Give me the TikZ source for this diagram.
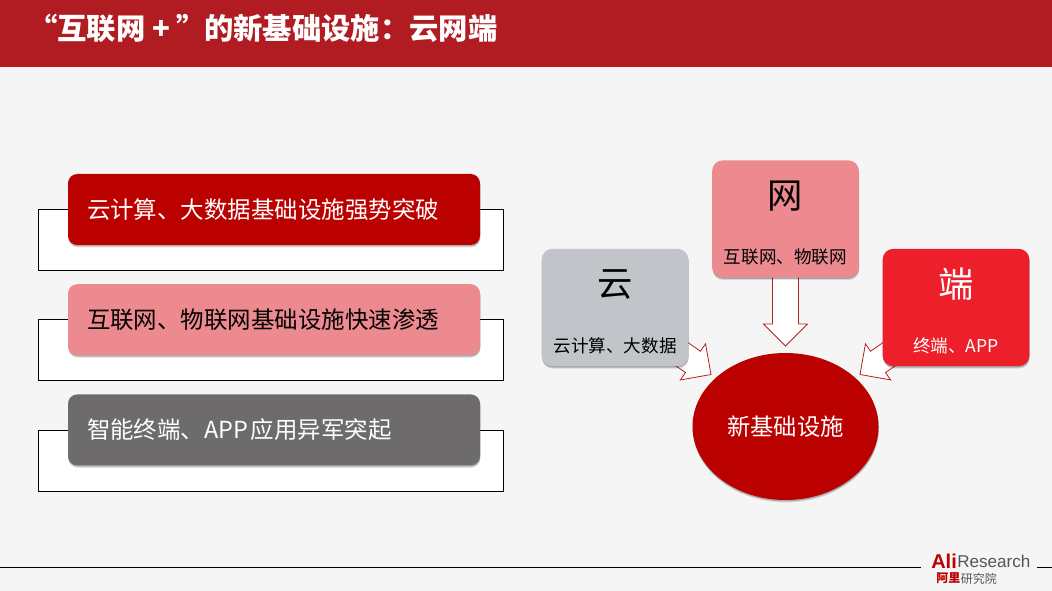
\documentclass[tikz,border=0pt]{standalone}
\usepackage{fontspec}
\usepackage{xcolor}
\setmainfont{Noto Sans CJK SC}
\newfontfamily\logofont{Liberation Sans}
\usetikzlibrary{shapes,positioning,calc,shadows}
\pgfdeclarelayer{arrowlayer}
\pgfsetlayers{arrowlayer,main}

\definecolor{titlered}{HTML}{B01C22}
\definecolor{deepred}{HTML}{BB0000}
\definecolor{pinkred}{HTML}{EC8A90}
\definecolor{darkgray}{HTML}{6D6B6B}
\definecolor{cloudgray}{HTML}{C1C4C8}
\definecolor{brightred}{HTML}{EC1F2B}
\definecolor{pagegray}{HTML}{F5F5F5}
\definecolor{arrowred}{HTML}{B22222}
\definecolor{logogray}{HTML}{555555}

\tikzset{
    softshadow/.style={
        drop shadow={shadow xshift=0.3pt, shadow yshift=-1.8pt, opacity=0.12, fill=black},
        drop shadow={shadow xshift=0.2pt, shadow yshift=-1pt, opacity=0.22, fill=black}},
    backframe/.style={rectangle, draw=black, fill=white, line width=0.7pt, minimum width=348.75pt, minimum height=45.75pt, inner sep=0pt},
    barbox/.style={rectangle, rounded corners=7pt, softshadow, minimum height=53.25pt, inner xsep=14.25pt, inner ysep=0pt, text width=280.5pt, align=left, font=\fontsize{17.6pt}{21pt}\selectfont},
    topicbox/.style={rectangle, rounded corners=8pt, softshadow, minimum width=110pt, minimum height=88pt, inner sep=0pt},
    bigchar/.style={inner sep=0pt, font=\fontsize{26.5pt}{28pt}\selectfont},
    smalltext/.style={inner sep=0pt, font=\fontsize{13.2pt}{15pt}\selectfont},
    basenode/.style={ellipse, fill=deepred, text=white, softshadow, minimum width=139.5pt, minimum height=110.25pt, inner sep=0pt, font=\fontsize{17.5pt}{20pt}\selectfont},
    blockarrow/.style={draw=arrowred, fill=white, line width=0.6pt},
}

% hollow arrow from node #1 towards node #2, tip at fraction #3
\newcommand{\blockarrow}[3]{
    \coordinate (tip) at ($(#1.center)!#3!(#2.center)$);
    \coordinate (neck) at ($(tip)!16.5pt!(#1.center)$);
    \draw[blockarrow] ($(#1.center)!9.75pt!90:(tip)$) -- ($(neck)!9.75pt!90:(tip)$) -- ($(neck)!16.5pt!90:(tip)$) -- (tip)
        -- ($(neck)!16.5pt!-90:(tip)$) -- ($(neck)!9.75pt!-90:(tip)$) -- ($(#1.center)!9.75pt!-90:(tip)$) -- cycle;
}
\newcommand{\bartext}[1]{\raisebox{-1pt}{#1}}

\begin{document}
\begin{tikzpicture}[x=0.75pt, y=-0.75pt]
    \begin{pgfonlayer}{arrowlayer}
        \fill[pagegray] (0,0) rectangle (1052,591);
    \end{pgfonlayer}
    \useasboundingbox (0,0) rectangle (1052,591);

    % title
    \fill[titlered] (0,0) rectangle (1052,67);
    \node[anchor=west, inner sep=0pt, text=white, font=\fontsize{22pt}{26pt}\selectfont\bfseries] (title) at (28,28.5) {“互联网 + ”\hspace{-1.5pt}的新基础设施：云网端};

    % left list
    \node[backframe] (cloudframe) at (271,240) {};
    \node[backframe] (netframe) at (271,350) {};
    \node[backframe] (termframe) at (271,460.5) {};
    \node[barbox, fill=deepred, text=white] (cloudbar) at (274,209.5) {\bartext{云计算、大数据基础设施强势突破}};
    \node[barbox, fill=pinkred, text=black, below=29pt of cloudbar] (netbar) {\bartext{互联网、物联网基础设施快速渗透}};
    \node[barbox, fill=darkgray, text=white, below=29pt of netbar] (termbar) {\bartext{智能终端、APP\hspace{2pt}应用异军突起}};

    % right cluster
    \node[topicbox, fill=cloudgray] (cloud) at (615,307.5) {};
    \node[topicbox, fill=pinkred] (net) at (785.5,219) {};
    \node[topicbox, fill=brightred] (term) at (956,307.5) {};
    \node[basenode] (base) at (785.5,426.5) {\raisebox{-1pt}{新基础设施}};

    \node[bigchar] (cloudchar) at ($(cloud.center)+(0,-23)$) {云};
    \node[smalltext] (cloudtext) at ($(cloud.center)+(0,38)$) {云计算、大数据};
    \node[bigchar] (netchar) at ($(net.center)+(0,-23)$) {网};
    \node[smalltext] (nettext) at ($(net.center)+(0,38)$) {互联网、物联网};
    \node[bigchar, text=white] (termchar) at ($(term.center)+(0,-23)$) {端};
    \node[smalltext, text=white] (termtext) at ($(term.center)+(0,38)$) {终端、APP};

    \begin{pgfonlayer}{arrowlayer}
        \blockarrow{cloud}{base}{0.563}
        \blockarrow{net}{base}{0.612}
        \blockarrow{term}{base}{0.563}
    \end{pgfonlayer}

    % footer
    \coordinate (footleft) at (0,567.5);
    \coordinate (footmid) at (921,567.5);
    \coordinate (footgap) at (1037,567.5);
    \coordinate (footright) at (1052,567.5);
    \draw[black, line width=0.7pt] (footleft) -- (footmid);
    \draw[black, line width=0.7pt] (footgap) -- (footright);
    \node[anchor=west, inner sep=0pt, text=deepred, font=\logofont\fontsize{15pt}{16pt}\selectfont\bfseries] (aliword) at (931,561) {Ali};
    \node[right=0pt of aliword, inner sep=0pt, text=logogray, font=\logofont\fontsize{12.8pt}{14pt}\selectfont] (researchword) {Research};
    \node[anchor=west, inner sep=0pt, text=deepred, font=\fontsize{9pt}{9pt}\selectfont\bfseries] (aliname) at (936,578.5) {阿里};
    \node[right=0pt of aliname, inner sep=0pt, text=logogray, font=\fontsize{9pt}{9pt}\selectfont] (researchname) {研究院};
\end{tikzpicture}
\end{document}
